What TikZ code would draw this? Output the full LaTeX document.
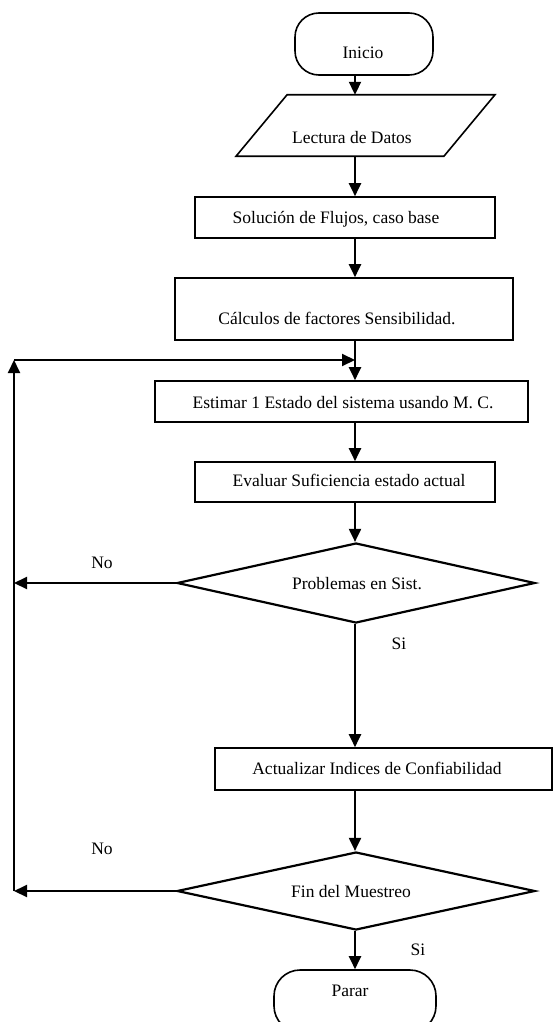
\documentclass[tikz,border=0pt]{standalone}
\usepackage{fontspec}
\setmainfont{Liberation Serif}
\usetikzlibrary{shapes.geometric,arrows.meta}
\begin{document}
\begin{tikzpicture}[x=1pt,y=-1pt,
  box/.style={draw, line width=1.6pt, rectangle, inner sep=0pt},
  term/.style={draw, line width=1.6pt, rectangle, inner sep=0pt},
  decision/.style={draw, line width=2.2pt, diamond, inner sep=0pt},
  frame/.style={rectangle, inner sep=0pt},
  txt/.style={inner sep=0pt, font=\fontsize{17.5}{20}\selectfont,
    text height=12pt, text depth=0pt},
  flow/.style={line width=2pt, -{Triangle[length=13pt,width=12pt]}}
]
\useasboundingbox (0,0) rectangle (554,1022);
\clip (0,0) rectangle (554,1022);

% flowchart shapes
\node[term, rounded corners=24pt, minimum width=138pt, minimum height=62pt] (ini) at (364,44) {};
% data input: parallelogram drawn around an invisible frame
\node[frame, minimum width=207.5pt, minimum height=61pt] (lec) at (365.5,125.5) {};
\draw[line width=1.6pt] ([xshift=25.5pt]lec.north west) -- ([xshift=25.5pt]lec.north east)
  -- ([xshift=-25.5pt]lec.south east) -- ([xshift=-25.5pt]lec.south west) -- cycle;
\node[box, minimum width=300pt, minimum height=41pt] (sol) at (345,217.5) {};
\node[box, minimum width=338pt, minimum height=62pt] (calc) at (344,309) {};
\node[box, minimum width=373pt, minimum height=41pt] (est) at (341.5,401.5) {};
\node[box, minimum width=300pt, minimum height=40pt] (eva) at (345,482) {};
\node[decision, minimum width=358pt, minimum height=80pt] (prob) at (356,583) {};
\node[box, minimum width=337pt, minimum height=42pt] (act) at (383.5,769) {};
\node[decision, minimum width=358pt, minimum height=78pt] (fin) at (356,891) {};
\node[term, rounded corners=26pt, minimum width=162pt, minimum height=62pt] (par) at (355,1001) {};

% texts
\node[txt] (ini-t) at (363,53) {Inicio};
\node[txt] (lec-t) at (352,137) {Lectura de Datos};
\node[txt] (sol-t) at (336,217) {Solución de Flujos, caso base};
\node[txt] (calc-t) at (337,318) {Cálculos de factores Sensibilidad.};
\node[txt] (est-t) at (343,402) {Estimar 1 Estado del sistema usando M. C.};
\node[txt] (eva-t) at (349,480) {Evaluar Suficiencia estado actual};
\node[txt] (prob-t) at (357,583) {Problemas en Sist.};
\node[txt] (act-t) at (377,768) {Actualizar Indices de Confiabilidad};
\node[txt] (fin-t) at (351,891) {Fin del Muestreo};
\node[txt] (par-t) at (350,990) {Parar};
\node[txt] (no1) at (102,562) {No};
\node[txt] (no2) at (102,848) {No};
\node[txt] (si1) at (399,643) {Si};
\node[txt] (si2) at (418,949) {Si};

% main axis and return line
\coordinate (ax) at (355,0);
\coordinate (lp) at (14,0);
\coordinate (loopc) at (14,360);

% connectors
\draw[flow] (ax |- ini.south) -- (ax |- lec.north);
\draw[flow] (ax |- lec.south) -- (ax |- sol.north);
\draw[flow] (ax |- sol.south) -- (ax |- calc.north);
\draw[flow] (ax |- calc.south) -- (ax |- est.north);
\draw[flow] (ax |- est.south) -- (ax |- eva.north);
\draw[flow] (ax |- eva.south) -- (ax |- prob.north);
\draw[flow] (ax |- prob.south) -- (ax |- act.north);
\draw[flow] (ax |- act.south) -- (ax |- fin.north);
\draw[flow] (ax |- fin.south) -- (ax |- par.north);
\draw[flow] (prob.west) -- (lp |- prob.west);
\draw[flow] (fin.west) -- (lp |- fin.west);
\draw[flow] (lp |- fin.west) -- (loopc);
\draw[flow] (loopc) -- (ax |- loopc);
\end{tikzpicture}
\end{document}
